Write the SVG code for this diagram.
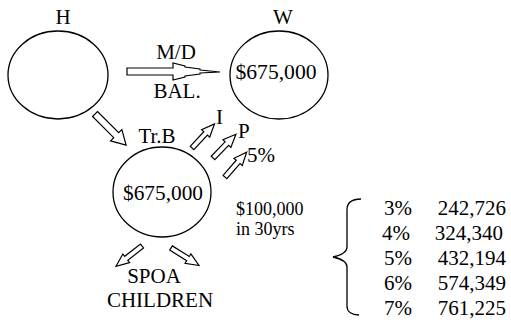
<svg xmlns="http://www.w3.org/2000/svg" width="511" height="324" viewBox="0 0 511 324" font-family="'Liberation Serif', 'Times New Roman', 'DejaVu Serif', serif">
  <style>
    text { fill: #000; }
    .lbl { font-size: 21px; }
    .sm { font-size: 18px; }
    .c { text-anchor: middle; }
    .e { text-anchor: end; }
    .node { fill: #fff; stroke: #000; stroke-width: 1.3; }
    .arw { fill: #fff; stroke: #000; stroke-width: 1.2; stroke-linejoin: miter; }
    .brace { fill: none; stroke: #000; stroke-width: 1.3; }
  </style>
  <defs>
    <!-- hollow arrows pointing along +x, tail at origin -->
    <polygon id="bigArrow" points="0,-3.5 30,-3.5 30,-8 44,0 30,8 30,3.5 0,3.5"/>
    <polygon id="smallArrow" points="0,-2.5 20,-2.5 20,-5.5 33,0 20,5.5 20,2.5 0,2.5"/>
  </defs>

  <g id="node-h">
    <ellipse class="node" cx="58" cy="75" rx="50" ry="44"/>
    <text class="lbl c" x="63" y="24">H</text>
  </g>

  <g id="node-w">
    <ellipse class="node" cx="279" cy="75" rx="49" ry="44"/>
    <text class="lbl c" x="283" y="24">W</text>
    <text class="lbl c" x="276" y="79" textLength="81" lengthAdjust="spacingAndGlyphs">$675,000</text>
  </g>

  <g id="node-trb">
    <ellipse class="node" cx="162" cy="192" rx="49" ry="45"/>
    <text class="lbl c" x="157" y="143">Tr.B</text>
    <text class="lbl c" x="163" y="200" textLength="80" lengthAdjust="spacingAndGlyphs">$675,000</text>
  </g>

  <g id="node-beneficiaries">
    <text class="lbl c" x="154" y="283">SPOA</text>
    <text class="lbl c" x="160" y="307">CHILDREN</text>
  </g>

  <g id="node-growth">
    <text class="sm" x="236" y="215">$100,000</text>
    <text class="sm" x="236" y="235">in 30yrs</text>
    <path class="brace" d="M361,199 C352,199 347,202 347,210 L347,247 C347,252 342,255 333,257 C342,259 347,262 347,267 L347,306 C347,312 352,315 359,315"/>
    <text class="lbl e" x="412" y="215">3%</text>
    <text class="lbl e" x="506" y="215">242,726</text>
    <text class="lbl e" x="410" y="240">4%</text>
    <text class="lbl e" x="503" y="240">324,340</text>
    <text class="lbl e" x="412" y="265">5%</text>
    <text class="lbl e" x="506" y="265">432,194</text>
    <text class="lbl e" x="412" y="290">6%</text>
    <text class="lbl e" x="506" y="290">574,349</text>
    <text class="lbl e" x="412" y="315">7%</text>
    <text class="lbl e" x="506" y="315">761,225</text>
  </g>

  <g id="connectors">
    <!-- H to W transfer -->
    <polygon class="arw" points="127,68 173,68 173,63 185,66 185,67 200,69 200,70 220,72 200,73 200,74 185,76 185,77 173,80 173,75 127,75"/>
    <text class="lbl c" x="176" y="59">M/D</text>
    <text class="lbl c" x="177" y="98">BAL.</text>
    <!-- H to trust -->
    <use href="#bigArrow" class="arw" transform="translate(95,114) rotate(45)"/>
    <!-- trust outflows -->
    <use href="#smallArrow" class="arw" transform="translate(192,148) rotate(-47)"/>
    <text class="lbl" x="216" y="124">I</text>
    <use href="#smallArrow" class="arw" transform="translate(213,158) rotate(-46)"/>
    <text class="lbl" x="238" y="138">P</text>
    <use href="#smallArrow" class="arw" transform="translate(225,177) rotate(-49)"/>
    <text class="lbl" x="247" y="162">5%</text>
    <!-- trust to beneficiaries -->
    <use href="#smallArrow" class="arw" transform="translate(142,246) rotate(142)"/>
    <use href="#smallArrow" class="arw" transform="translate(171,248) rotate(32)"/>
  </g>
</svg>
